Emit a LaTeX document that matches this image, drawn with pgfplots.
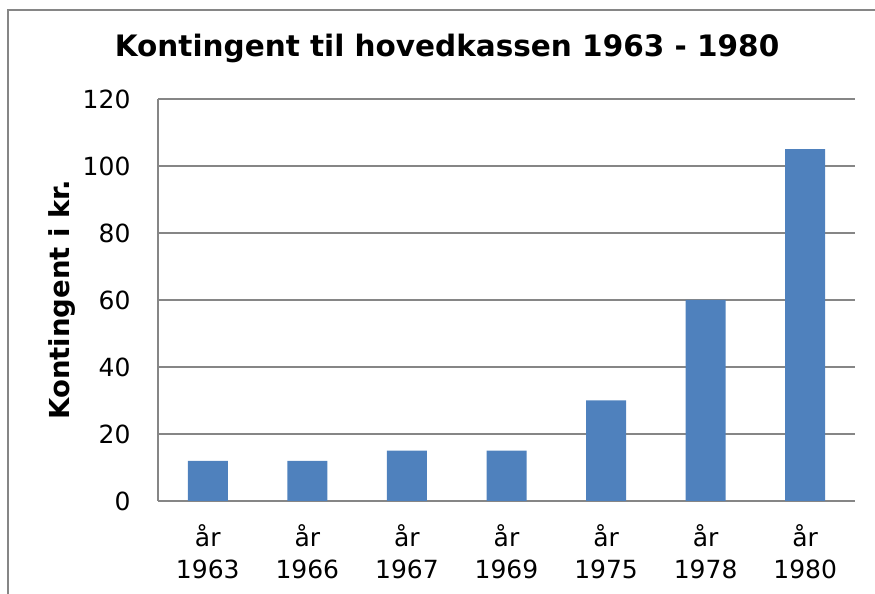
\documentclass[border=0pt]{standalone}
\usepackage{fontspec}
\setmainfont{DejaVu Sans}
\usepackage{pgfplots}
\pgfplotsset{compat=1.18}
\definecolor{barblue}{HTML}{4F81BD}
\definecolor{gridgray}{HTML}{868686}
\begin{document}
\begin{tikzpicture}[x=1pt,y=1pt]
\useasboundingbox (0,0) rectangle (875,594);
\draw[gridgray, line width=1.5pt] (8,0) -- (8,584) -- (875,584);
\node[font=\fontsize{29.5}{35}\selectfont\bfseries] at (447,546) {Kontingent til hovedkassen 1963 - 1980};
\begin{axis}[
  at={(158pt,93pt)}, anchor=south west, scale only axis,
  width=697pt, height=402pt,
  xmin=-0.5, xmax=6.5, ymin=0, ymax=120,
  ytick={0,20,...,120},
  xtick={0,...,6},
  xticklabels={{år\\1963},{år\\1966},{år\\1967},{år\\1969},{år\\1975},{år\\1978},{år\\1980}},
  axis x line*=bottom, axis y line*=left,
  axis line style={gridgray, line width=1.3pt},
  ymajorgrids, grid style={gridgray, line width=1.3pt},
  major tick length=0pt,
  tick style={draw=none},
  /pgf/number format/assume math mode=true,
  yticklabel style={font=\fontsize{25}{30}\selectfont, anchor=east, xshift=-24pt},
  xticklabel style={font=\fontsize{25}{32}\selectfont, align=center, anchor=north, yshift=-20pt},
  ylabel={Kontingent i kr.},
  ylabel style={font=\fontsize{27.5}{33}\selectfont\bfseries, at={(axis description cs:-0.137,0.5)}, anchor=center, rotate=0},
]
\addplot[ybar, bar width=40pt, fill=barblue, draw=none] coordinates {
  (0,12) (1,12) (2,15) (3,15) (4,30) (5,60) (6,105)
};
\end{axis}
\end{tikzpicture}
\end{document}
